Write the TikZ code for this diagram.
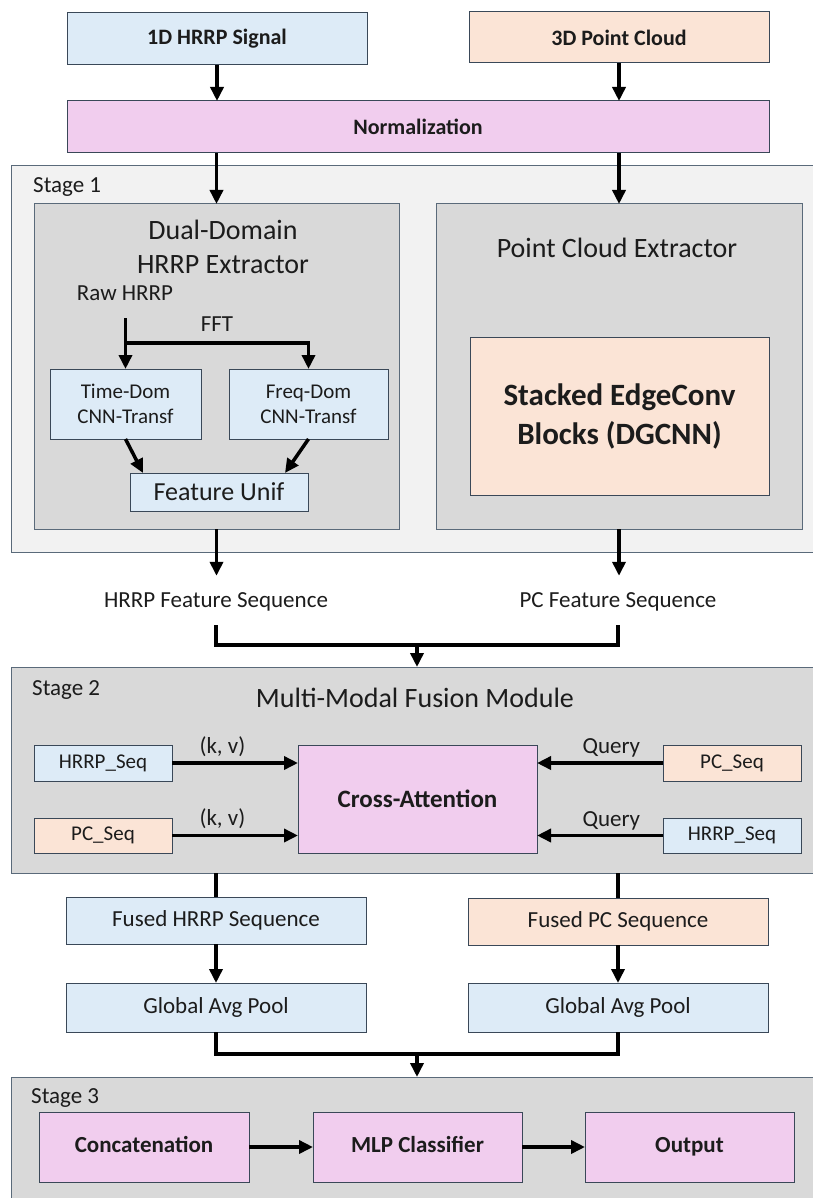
\documentclass[tikz,border=0pt]{standalone}
\usepackage{fontspec}
\setmainfont{Carlito}
\usepackage{xcolor}
\usetikzlibrary{arrows.meta, positioning, calc}

\definecolor{hrrpblue}{HTML}{DDEBF7}
\definecolor{pcpeach}{HTML}{FBE4D6}
\definecolor{fusepink}{HTML}{F1CDEE}
\definecolor{panelgray}{HTML}{D9D9D9}
\definecolor{stagelight}{HTML}{F2F2F2}
\definecolor{edgegray}{HTML}{3A4858}
\definecolor{stageedge}{HTML}{5A6A7A}
\definecolor{ink}{HTML}{1C1C1C}

\newcommand{\fsmall}{\fontsize{21}{25}\selectfont}
\newcommand{\fnorm}{\fontsize{23}{28}\selectfont}
\newcommand{\ftitle}{\fontsize{28}{34}\selectfont}

\begin{document}
\begin{tikzpicture}[x=1pt, y=-1pt,
  box/.style={draw=edgegray, line width=1pt, inner sep=0pt, outer sep=0pt, align=center, text=ink, font=\fnorm},
  hrrp/.style={box, fill=hrrpblue},
  pc/.style={box, fill=pcpeach},
  fuse/.style={box, fill=fusepink, font=\fnorm\bfseries},
  headbox/.style={fuse, text height=16pt, text depth=5pt, minimum width=209pt, minimum height=70pt},
  panel/.style={draw=stageedge, line width=1pt, fill=panelgray, inner sep=0pt, outer sep=0pt},
  lbl/.style={text=ink, font=\fnorm, inner sep=0pt},
  seqlbl/.style={lbl, anchor=base, text height=18pt, text depth=5pt, inner ysep=13pt},
  flow/.style={line width=3.5pt, -{Triangle[length=14pt, width=13pt]}},
  link/.style={line width=3.5pt}
]
\useasboundingbox (0,0) rectangle (812,1198);

\node[hrrp, font=\fontsize{22}{26}\selectfont\bfseries, minimum width=300pt, minimum height=52pt] (sig) at (217,39) {1D HRRP Signal};
\node[pc, font=\fontsize{22}{26}\selectfont\bfseries, minimum width=300pt, minimum height=51pt] (cloud) at (619,37.5) {3D Point Cloud};
\node[fuse, font=\fontsize{22}{26}\selectfont\bfseries, minimum width=702pt, minimum height=52pt] (norm) at (418,127) {Normalization};
\draw[flow] (sig.south) -- (sig.south |- norm.north);
\draw[flow] (cloud.south) -- (cloud.south |- norm.north);

\node[panel, fill=stagelight, minimum width=802pt, minimum height=386pt] (stageone) at (412,359) {};
\node[lbl, anchor=base west] (stoneLbl) at (33,193) {Stage 1};
\node[panel, minimum width=365pt, minimum height=325pt] (hext) at (216.5,366.5) {};
\node[panel, minimum width=366pt, minimum height=325pt] (pcext) at (619,366.5) {};
\draw[flow] (hext.north |- norm.south) -- (hext.north);
\draw[flow] (pcext.north |- norm.south) -- (pcext.north);

\node[lbl, font=\ftitle, align=center] (hextT) at (223,247) {Dual-Domain\\HRRP Extractor};
\node[lbl, anchor=base, inner ysep=18pt] (raw) at (125,300) {Raw HRRP};
\node[hrrp, font=\fsmall, minimum width=151pt, minimum height=70pt] (timed) at (125.5,404) {Time-Dom\\CNN-Transf};
\node[hrrp, font=\fsmall, minimum width=159pt, minimum height=70pt] (freqd) at (308.5,404) {Freq-Dom\\CNN-Transf};
\node[hrrp, font=\fontsize{26}{30}\selectfont, minimum width=178pt, minimum height=38pt] (unif) at (219,492) {Feature Unif};
\coordinate (fork) at (125.5,343);
\draw[flow] (raw.south -| timed.north) -- (timed.north);
\draw[flow] (fork) -| (freqd.north) node[lbl, pos=0.25, above=10pt] {FFT};
\draw[flow] (timed.south) -- ([xshift=13pt]unif.north west);
\draw[flow] (freqd.south) -- ([xshift=-23pt]unif.north east);

\node[lbl, font=\ftitle, anchor=base] (pcextT) at (617,257) {Point Cloud Extractor};
\node[pc, font=\fontsize{31}{39}\selectfont\bfseries, minimum width=299pt, minimum height=158pt] (edgeconv) at (619.5,416) {Stacked EdgeConv\\Blocks (DGCNN)};

\node[seqlbl] (hfeat) at (216,607) {HRRP Feature Sequence};
\node[seqlbl] (pfeat) at (618,607) {PC Feature Sequence};
\draw[flow] (hext.south) -- (hext.south |- hfeat.north);
\draw[flow] (pcext.south) -- (pcext.south |- pfeat.north);

\node[panel, minimum width=802pt, minimum height=206pt] (stagetwo) at (412,770) {};
\coordinate (joinA) at (417,645);
\draw[link] (hfeat.south) |- (joinA) -| (pfeat.south);
\draw[flow] (joinA) -- (joinA |- stagetwo.north);
\node[lbl, anchor=base west] (sttwoLbl) at (32,695) {Stage 2};
\node[lbl, font=\ftitle, anchor=base] (fusionT) at (415,707) {Multi-Modal Fusion Module};
\node[fuse, font=\fontsize{25}{30}\selectfont\bfseries, minimum width=239pt, minimum height=108pt] (cross) at (417.5,799) {Cross-Attention};
\node[hrrp, font=\fsmall, minimum width=138pt, minimum height=36pt] (hseqA) at (103,763) {HRRP\_Seq};
\node[pc, font=\fsmall, minimum width=138pt, minimum height=35pt] (pseqA) at (103,835.5) {PC\_Seq};
\node[pc, font=\fsmall, minimum width=138pt, minimum height=36pt] (pseqB) at (732,763) {PC\_Seq};
\node[hrrp, font=\fsmall, minimum width=138pt, minimum height=35pt] (hseqB) at (732,835.5) {HRRP\_Seq};
\draw[flow] (hseqA.east) -- (hseqA.east -| cross.west) node[lbl, pos=0.4, above=5pt] {(k, v)};
\draw[flow] (pseqA.east) -- (pseqA.east -| cross.west) node[lbl, pos=0.4, above=5pt] {(k, v)};
\draw[flow] (pseqB.west) -- (pseqB.west -| cross.east) node[lbl, pos=0.41, above=4pt] {Query};
\draw[flow] (hseqB.west) -- (hseqB.west -| cross.east) node[lbl, pos=0.41, above=4pt] {Query};

\node[hrrp, minimum width=300pt, minimum height=47pt] (fh) at (216,920.5) {Fused HRRP Sequence};
\node[pc, minimum width=300pt, minimum height=47pt] (fp) at (618,921.5) {Fused PC Sequence};
\node[hrrp, minimum width=300pt, minimum height=49pt] (gh) at (216,1007.5) {Global Avg Pool};
\node[hrrp, minimum width=300pt, minimum height=49pt] (gp) at (618,1007.5) {Global Avg Pool};
\draw[link] (fh.north |- stagetwo.south) -- (fh.north);
\draw[link] (fp.north |- stagetwo.south) -- (fp.north);
\draw[flow] (fh.south) -- (gh.north);
\draw[flow] (fp.south) -- (gp.north);

\node[panel, minimum width=802pt, minimum height=123pt] (stagethree) at (412,1138.5) {};
\coordinate (joinB) at (417,1054);
\draw[link] (gh.south) |- (joinB) -| (gp.south);
\draw[flow] (joinB) -- (joinB |- stagethree.north);
\node[lbl, anchor=base west] (stthreeLbl) at (31,1103) {Stage 3};
\node[headbox, minimum width=210pt] (concat) at (144,1147) {Concatenation};
\node[headbox] (mlp) at (417.5,1147) {MLP Classifier};
\node[headbox] (out) at (689.5,1147) {Output};
\draw[flow] (concat.east) -- (mlp.west);
\draw[flow] (mlp.east) -- (out.west);
\end{tikzpicture}
\end{document}
